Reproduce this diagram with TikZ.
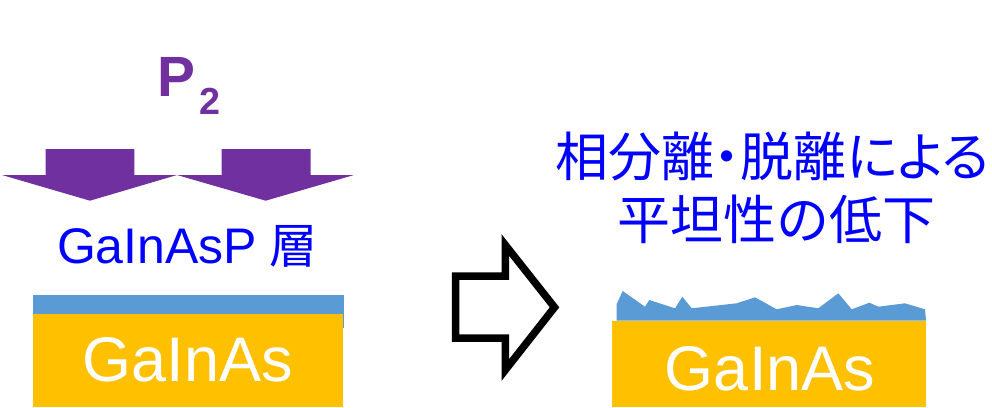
\documentclass[tikz,border=0pt]{standalone}
\usepackage{fontspec}
\setmainfont{Liberation Sans}
\newfontfamily\jp{Noto Sans CJK JP}
\newfontfamily\jpp[RawFeature=+palt]{Noto Sans CJK JP}
\definecolor{ppl}{HTML}{7030A0}
\definecolor{orng}{HTML}{FFC000}
\definecolor{lblue}{HTML}{5B9BD5}
\definecolor{tblue}{HTML}{0000FF}
\begin{document}
\begin{tikzpicture}[x=1pt,y=-1pt,
  txt/.style={inner sep=0pt,outer sep=0pt,anchor=base},
  subtxt/.style={txt,font=\fontsize{63}{65}\selectfont,text=white},
  bluetxt/.style={txt,text=tblue}]
\useasboundingbox (0,0) rectangle (992,407);
% purple arrows
\fill[ppl] (45.7,149) -- (134.3,149) -- (134.3,175) -- (177,175) -- (90,200.7) -- (2,175) -- (45.7,175) -- cycle;
\fill[ppl] (221.7,149) -- (310.7,149) -- (310.7,175) -- (354,175) -- (265.7,200.7) -- (177,175) -- (221.7,175) -- cycle;
\node[txt,anchor=base west,text=ppl,font=\fontsize{56.8}{58}\selectfont\bfseries] (p) at (157,96.7) {P};
\node[txt,anchor=base west,text=ppl,font=\fontsize{37.7}{40}\selectfont\bfseries] (p2) at (199,114) {2};
\node[bluetxt,anchor=base west,font=\fontsize{50}{52}\selectfont] (lay) at (57,263.3) {GaInAsP\hspace{12pt}{\jp\fontsize{48}{50}\selectfont 層}};
% left stack
\fill[lblue] (33.3,295) rectangle (344,328);
\fill[orng] (33.3,314.3) rectangle (343.3,407);
\node[subtxt] (g1) at (187.5,381.7) {GaInAs};
% hollow arrow
\draw[line width=7.5pt,line join=miter] (455.5,276) -- (505.3,276) -- (505.3,245) -- (554.5,307.3) -- (505.3,370) -- (505.3,338) -- (455.5,338) -- cycle;
% right stack
\fill[orng] (612.3,320.7) rectangle (926,407);
\fill[lblue] (616.7,320.7) -- (616.7,304) -- (622.7,291) -- (645,306.7) -- (649.3,300) -- (675,308.3) -- (682.3,296.7) -- (691.7,308.3) -- (736.7,303.3) -- (755,297.3) -- (776.7,309.3) -- (796.7,305) -- (818.3,308.3) -- (838.3,293.3) -- (851.7,309.3) -- (869.3,302.7) -- (878.3,306.7) -- (905,303.3) -- (925,309.3) -- (926,320.7) -- cycle;
\node[subtxt] (g2) at (770,390) {GaInAs};
\node[bluetxt,font=\jpp\fontsize{53}{55}\selectfont] (l1) at (772.5,176.5) {相分離・脱離による};
\node[bluetxt,font=\jp\fontsize{53}{55}\selectfont] (l2) at (776,239.5) {平坦性の低下};
\end{tikzpicture}
\end{document}
